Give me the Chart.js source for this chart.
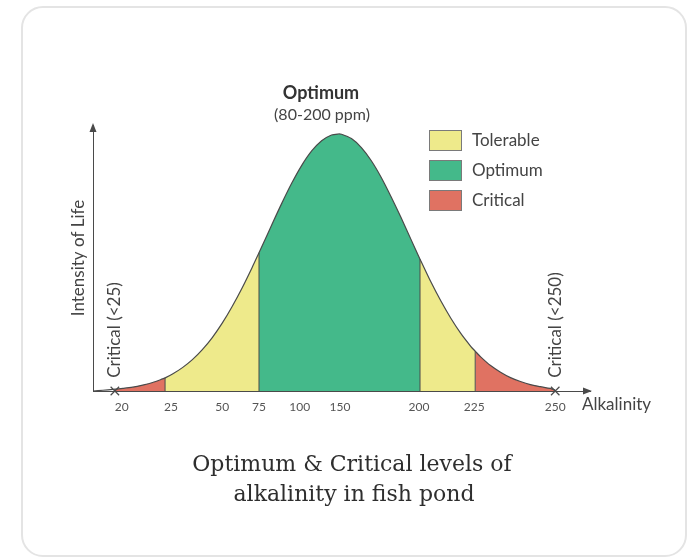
<!DOCTYPE html>
<html>
<head>
<meta charset="utf-8">
<script src="https://cdn.jsdelivr.net/npm/chart.js@4.4.1/dist/chart.umd.min.js"></script>
<style>
  html, body { margin: 0; padding: 0; background: #fff; }
  body { width: 690px; height: 557px; position: relative; overflow: hidden; }
  .card {
    position: absolute; left: 21px; top: 6px; width: 662px; height: 547px;
    border: 2px solid #e4e4e4; border-radius: 22px; background: #fff;
  }
  canvas { position: absolute; left: 0; top: 0; }
</style>
</head>
<body>
<div class="card"></div>
<canvas id="chart" width="690" height="557"></canvas>
<script>
// schematic position along the alkalinity axis, and intensity of life (peak = 100)
const curveX = [0, 2, 4, 4.4, 6, 8, 10, 12, 14, 14.5, 16, 18, 20, 22, 24, 26, 28, 30, 32, 33.4,
  34, 36, 38, 40, 42, 44, 46, 48, 49.3, 50, 52, 54, 56, 58, 60, 62, 64, 65.8,
  66, 68, 70, 72, 74, 76, 76.9, 78, 80, 82, 84, 86, 88, 90, 92, 93];
const curveY = [0, 0.3, 0.6, 0.7, 1.0, 1.5, 2.3, 3.3, 4.7, 5.1, 6.6, 9.1, 12.2, 16.1, 20.8, 26.4, 32.9, 40.1, 48.0, 53.8,
  56.3, 64.8, 73.1, 80.9, 87.8, 93.4, 97.4, 99.6, 100, 99.9, 98.2, 94.7, 89.6, 83.1, 75.5, 67.4, 58.9, 51.3,
  50.5, 42.4, 35.0, 28.3, 22.4, 17.4, 15.5, 13.3, 9.9, 7.3, 5.2, 3.7, 2.5, 1.7, 1.0, 0.3];

const zoneBounds = [4.4, 14.5, 33.4, 65.8, 76.9, 93];
const zoneNames = ['Critical', 'Tolerable', 'Optimum', 'Tolerable', 'Critical'];

const tickPos = [5.8, 15.7, 26.0, 33.4, 41.6, 49.7, 65.6, 76.7, 93.0];
const tickLabels = ['20', '25', '50', '75', '100', '150', '200', '225', '250'];

const legendNames = ['Tolerable', 'Optimum', 'Critical'];
const markerX = [4.4, 93];

const zoneColors = { Critical: '#e07262', Tolerable: '#eeea8b', Optimum: '#44b98a' };
const LINE = '#4a4a4a';
const TEXT = '#444';
const SANS = 'Lato, "Noto Sans", sans-serif';

const points = curveX.map((x, i) => ({ x, y: curveY[i] }));

const zoneSets = zoneNames.map((name, i) => ({
  label: name,
  data: points.filter(p => p.x >= zoneBounds[i] && p.x <= zoneBounds[i + 1]),
  backgroundColor: zoneColors[name],
  borderWidth: 0,
  pointRadius: 0,
  fill: 'origin',
  tension: 0.3,
  order: 3
}));

// vertical dividers between zones
const edgeData = [];
zoneBounds.slice(1, -1).forEach(b => {
  edgeData.push({ x: b, y: 0 }, { x: b, y: curveY[curveX.indexOf(b)] }, { x: b, y: null });
});

const overlay = {
  id: 'overlay',
  afterDraw(chart) {
    const { ctx, chartArea: a, scales: { x } } = chart;
    ctx.save();
    ctx.fillStyle = LINE;
    // arrow heads
    ctx.beginPath();
    ctx.moveTo(a.right + 2, a.bottom);
    ctx.lineTo(a.right - 7, a.bottom - 3.5);
    ctx.lineTo(a.right - 7, a.bottom + 3.5);
    ctx.closePath();
    ctx.fill();
    ctx.beginPath();
    ctx.moveTo(a.left, a.top - 2);
    ctx.lineTo(a.left - 3.5, a.top + 7);
    ctx.lineTo(a.left + 3.5, a.top + 7);
    ctx.closePath();
    ctx.fill();

    ctx.fillStyle = '#333';
    ctx.textAlign = 'center';
    ctx.textBaseline = 'middle';
    ctx.font = 'bold 18px ' + SANS;
    ctx.fillText('Optimum', 321, 93);
    ctx.fillStyle = TEXT;
    ctx.font = '16px ' + SANS;
    ctx.fillText('(80-200 ppm)', 322, 115);

    // rotated critical labels
    [['Critical (<25)', markerX[0], 330], ['Critical (<250)', markerX[1], 325]].forEach(([t, v, cy]) => {
      ctx.save();
      ctx.translate(x.getPixelForValue(v), cy);
      ctx.rotate(-Math.PI / 2);
      ctx.font = '17px ' + SANS;
      ctx.fillText(t, 0, 0);
      ctx.restore();
    });

    ctx.textAlign = 'left';
    ctx.font = '17px ' + SANS;
    ctx.fillText('Alkalinity', a.right - 8, 405);

    // legend
    legendNames.forEach((name, i) => {
      const y = 130 + i * 30;
      ctx.fillStyle = zoneColors[name];
      ctx.fillRect(429, y, 33, 21);
      ctx.strokeStyle = '#7a7a7a';
      ctx.lineWidth = 1;
      ctx.strokeRect(429.5, y + 0.5, 32, 20);
      ctx.fillStyle = TEXT;
      ctx.font = '17px ' + SANS;
      ctx.fillText(name, 472, y + 11);
    });

    // caption
    ctx.textAlign = 'center';
    ctx.font = '22px "DejaVu Serif", serif';
    ctx.fillStyle = '#2e2e2e';
    ctx.fillText('Optimum & Critical levels of', 352, 465);
    ctx.fillText('alkalinity in fish pond', 354, 495);
    ctx.restore();
  }
};

new Chart(document.getElementById('chart'), {
  type: 'line',
  data: {
    datasets: [
      ...zoneSets,
      {
        label: 'curve',
        data: points,
        borderColor: LINE,
        borderWidth: 1.2,
        pointRadius: 0,
        fill: false,
        tension: 0.3,
        order: 1
      },
      {
        label: 'edges',
        data: edgeData,
        borderColor: LINE,
        borderWidth: 1,
        pointRadius: 0,
        fill: false,
        spanGaps: false,
        order: 2
      },
      {
        label: 'markers',
        data: markerX.map(v => ({ x: v, y: 0 })),
        showLine: false,
        pointStyle: 'crossRot',
        pointRadius: 6,
        borderColor: LINE,
        borderWidth: 1.2,
        clip: false,
        order: 0
      }
    ]
  },
  options: {
    responsive: false,
    animation: false,
    layout: { padding: { left: 0, top: 125, right: 100, bottom: 126 } },
    plugins: { legend: { display: false }, title: { display: false }, tooltip: { enabled: false } },
    scales: {
      x: {
        type: 'linear',
        min: 0,
        max: 100,
        afterFit: s => { s.height = 40; },
        afterBuildTicks: s => { s.ticks = tickPos.map(v => ({ value: v })); },
        grid: { display: false, drawTicks: false },
        border: { display: true, color: LINE, width: 1 },
        ticks: {
          autoSkip: false,
          maxRotation: 0,
          padding: 9,
          color: '#555',
          font: { family: SANS, size: 12 },
          callback: (v, i) => tickLabels[i]
        }
      },
      y: {
        min: 0,
        max: 103.5,
        afterFit: s => { s.width = 93; },
        grid: { display: false, drawTicks: false },
        border: { display: true, color: LINE, width: 1 },
        ticks: { display: false },
        title: {
          display: true,
          text: 'Intensity of Life',
          color: TEXT,
          font: { family: SANS, size: 17 },
          padding: { top: 68, bottom: 0 }
        }
      }
    }
  },
  plugins: [overlay]
});
</script>
</body>
</html>
